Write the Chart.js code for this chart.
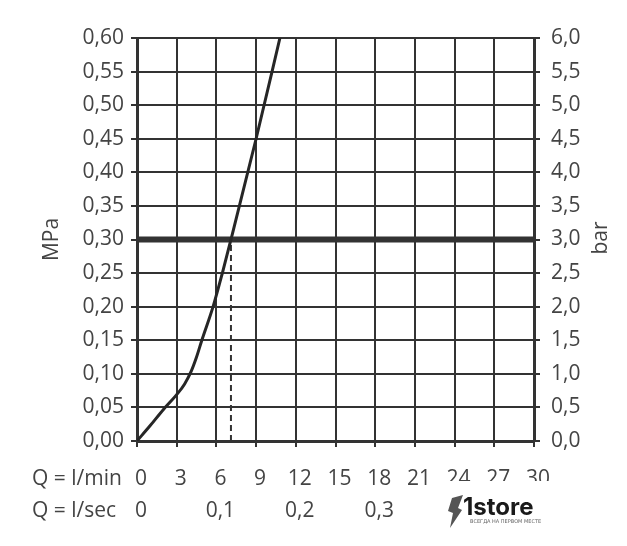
<!DOCTYPE html>
<html>
<head>
<meta charset="utf-8">
<script src="https://cdn.jsdelivr.net/npm/chart.js@4"></script>
<style>
  html, body { margin: 0; padding: 0; background: #fff; }
  #wrap { width: 627px; height: 546px; }
</style>
</head>
<body>
<div id="wrap"><canvas id="flow-chart" width="627" height="546"></canvas></div>
<script>
// flow (l/min) vs pressure (MPa)
var flowLpm = [0, 1, 2, 3, 3.6, 4.1, 4.5, 4.9, 5.75, 6.45, 7.1, 9, 10.8];
var pressureMPa = [0, 0.023, 0.047, 0.069, 0.085, 0.104, 0.125, 0.15, 0.2, 0.25, 0.3, 0.45, 0.6];
var workingPressure = 0.3;   // MPa, thick line
var workingFlow = 7.1;       // l/min, dashed drop line
var flowRange = [0, 30];
var mpaRange = [0, 0.6];
var barRange = [0, 6];
var lpsRange = [0, 0.5];

var ink = '#333';
var textCol = '#444';
var fontFam = '"Open Sans", "DejaVu Sans", sans-serif';
var fontSize = 21;

var curve = flowLpm.map(function (q, i) { return { x: q, y: pressureMPa[i] }; });

var extras = {
  id: 'extras',
  afterDraw: function (chart) {
    var ctx = chart.ctx;
    ctx.save();
    ctx.fillStyle = textCol;
    ctx.font = fontSize + 'px ' + fontFam;
    ctx.textBaseline = 'middle';
    ctx.textAlign = 'left';
    ctx.fillText('Q = l/min', 32, 479);
    ctx.fillText('Q = l/sec', 32, 511);

    // right axis title, reads bottom to top
    ctx.save();
    ctx.translate(601, 238);
    ctx.rotate(-Math.PI / 2);
    ctx.textAlign = 'center';
    ctx.fillText('bar', 0, 0);
    ctx.restore();

    // watermark
    ctx.fillStyle = '#fff';
    ctx.fillRect(436, 481, 126, 65);
    ctx.fillStyle = '#555';
    ctx.beginPath();
    ctx.moveTo(452, 498);
    ctx.lineTo(463, 495);
    ctx.lineTo(458, 508);
    ctx.lineTo(462, 510);
    ctx.lineTo(450, 528);
    ctx.lineTo(453, 513);
    ctx.lineTo(448, 511);
    ctx.closePath();
    ctx.fill();
    ctx.fillStyle = '#1a1a1a';
    ctx.font = 'bold 24px Inter, "Noto Sans", sans-serif';
    ctx.fillText('1store', 463, 508);
    ctx.fillStyle = '#666';
    ctx.font = '5px "DejaVu Sans", sans-serif';
    ctx.fillText('ВСЕГДА НА ПЕРВОМ МЕСТЕ', 470, 522);
    ctx.restore();
  }
};

new Chart(document.getElementById('flow-chart'), {
  type: 'scatter',
  data: {
    datasets: [
      {
        data: curve,
        showLine: true,
        borderColor: '#262626',
        borderWidth: 3,
        pointRadius: 0,
        cubicInterpolationMode: 'monotone',
        fill: false
      },
      {
        data: [{ x: flowRange[0], y: workingPressure }, { x: flowRange[1], y: workingPressure }],
        showLine: true,
        borderColor: ink,
        borderWidth: 6,
        pointRadius: 0
      },
      {
        data: [{ x: workingFlow, y: 0 }, { x: workingFlow, y: workingPressure }],
        showLine: true,
        borderColor: ink,
        borderWidth: 2,
        borderDash: [6, 4],
        pointRadius: 0
      }
    ]
  },
  plugins: [extras],
  options: {
    responsive: false,
    animation: false,
    layout: { padding: { top: 38, left: 0, right: 0, bottom: 0 } },
    plugins: { legend: { display: false }, tooltip: { enabled: false } },
    scales: {
      x: {
        type: 'linear',
        position: 'bottom',
        min: flowRange[0],
        max: flowRange[1],
        afterFit: function (s) { s.height = 50; },
        ticks: {
          stepSize: 3,
          autoSkip: false,
          maxRotation: 0,
          padding: 19,
          labelOffset: 4,
          color: textCol,
          font: { family: fontFam, size: fontSize }
        },
        grid: { color: ink, lineWidth: 2, tickLength: 6 },
        border: { color: ink, width: 3 }
      },
      x2: {
        type: 'linear',
        position: 'bottom',
        min: lpsRange[0],
        max: lpsRange[1],
        afterFit: function (s) { s.height = 55; },
        ticks: {
          stepSize: 0.1,
          autoSkip: false,
          maxRotation: 0,
          padding: 7,
          labelOffset: 4,
          color: textCol,
          font: { family: fontFam, size: fontSize },
          callback: function (v) { return v === 0 ? '0' : v.toFixed(1).replace('.', ','); }
        },
        grid: { display: false, drawTicks: false },
        border: { display: false }
      },
      y: {
        type: 'linear',
        position: 'left',
        min: mpaRange[0],
        max: mpaRange[1],
        afterFit: function (s) { s.width = 137; },
        title: {
          display: true,
          text: 'MPa',
          color: textCol,
          font: { family: fontFam, size: fontSize },
          padding: { top: 39, bottom: 0 }
        },
        ticks: {
          stepSize: 0.05,
          padding: 7,
          color: textCol,
          font: { family: fontFam, size: fontSize },
          callback: function (v) { return v.toFixed(2).replace('.', ','); }
        },
        grid: { color: ink, lineWidth: 2, tickLength: 6 },
        border: { color: ink, width: 3 }
      },
      y2: {
        type: 'linear',
        position: 'right',
        min: barRange[0],
        max: barRange[1],
        afterFit: function (s) { s.width = 93; },
        ticks: {
          stepSize: 0.5,
          padding: 11,
          color: textCol,
          font: { family: fontFam, size: fontSize },
          callback: function (v) { return v.toFixed(1).replace('.', ','); }
        },
        grid: { drawOnChartArea: false, color: ink, lineWidth: 2, tickLength: 6 },
        border: { color: ink, width: 3 }
      }
    }
  }
});
</script>
</body>
</html>
